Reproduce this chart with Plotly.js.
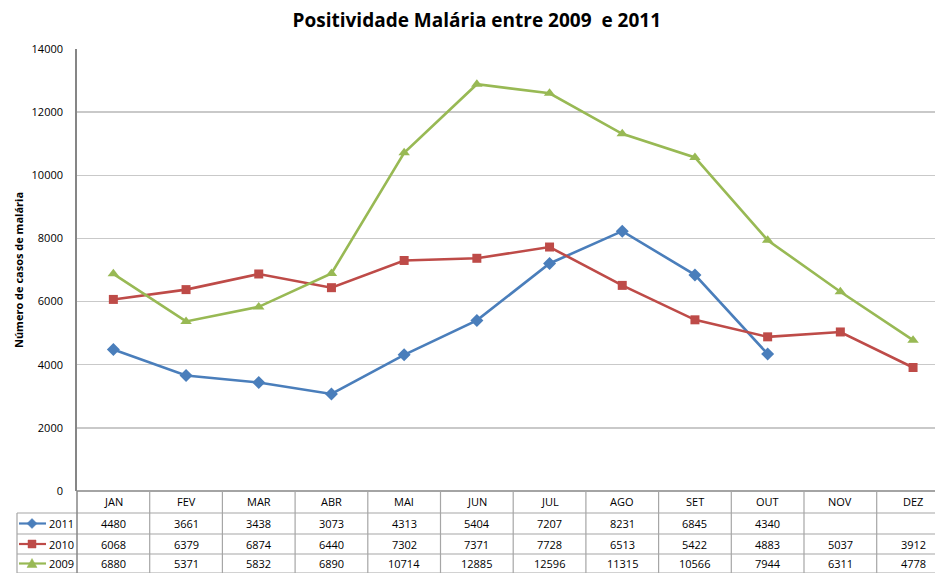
<!DOCTYPE html>
<html>
<head>
<meta charset="utf-8">
<script src="https://cdn.plot.ly/plotly-3.0.1.min.js"></script>
<style>html,body{margin:0;padding:0;background:#fff;}#chart{width:935px;height:573px;}</style>
</head>
<body>
<div id="chart"></div>
<script>
const months = ["JAN","FEV","MAR","ABR","MAI","JUN","JUL","AGO","SET","OUT","NOV","DEZ"];
const seriesNames = ["2011","2010","2009"];
const v2011 = [4480,3661,3438,3073,4313,5404,7207,8231,6845,4340,null,null];
const v2010 = [6068,6379,6874,6440,7302,7371,7728,6513,5422,4883,5037,3912];
const v2009 = [6880,5371,5832,6890,10714,12885,12596,11315,10566,7944,6311,4778];
const yTicks = [0,2000,4000,6000,8000,10000,12000,14000];

const colors = ["#4A7EBB","#BE4B48","#98B954"];
const symbols = ["diamond","square","triangle-up"];
const allValues = [v2011, v2010, v2009];

const W = 935, H = 573;
const L = 77, R = 0, T = 49, B = 82;
const plotW = W - L - R;
const plotH = H - T - B;
const colW = 72.7;
const xMax = -0.5 + plotW / colW;

const traces = allValues.map((vals, i) => ({
  x: months.map((m, k) => k),
  y: vals,
  type: "scatter",
  mode: "lines+markers",
  name: seriesNames[i],
  line: {color: colors[i], width: 2.6},
  marker: {color: colors[i], symbol: symbols[i], size: symbols[i]==="square" ? 9 : 10},
  connectgaps: false,
  hoverinfo: "x+y"
}));

// table geometry in pixels
const rowY = [491, 513, 534, 554, 573];
const legL = 17;
function px(x){ return (x - L) / plotW; }
function py(y){ return (H - B - y) / plotH; }
const gridCol = "#a6a6a6";
const shapes = [];
shapes.push({type:"line", xref:"paper", yref:"paper", x0:px(L), x1:px(W+20), y0:py(rowY[0]), y1:py(rowY[0]), line:{color:"#868686", width:1.5}});
for (let r = 1; r < rowY.length; r++) {
  shapes.push({type:"line", xref:"paper", yref:"paper", x0:px(legL), x1:px(W+20), y0:py(rowY[r]), y1:py(rowY[r]), line:{color:gridCol, width:1.2}});
}
for (let c = 0; c <= 12; c++) {
  const xp = L + c * colW;
  shapes.push({type:"line", xref:"paper", yref:"paper", x0:px(xp), x1:px(xp), y0:py(rowY[0]), y1:py(H+5), line:{color: c===0 ? "#868686" : gridCol, width: c===0 ? 1.5 : 1.2}});
}
shapes.push({type:"line", xref:"paper", yref:"paper", x0:px(legL), x1:px(legL), y0:py(rowY[1]), y1:py(H+5), line:{color:gridCol, width:1.2}});

const annotations = [];
const tfont = {family:"Open Sans, Liberation Sans, sans-serif", size:11, color:"#000"};
months.forEach((m, k) => {
  annotations.push({xref:"x", yref:"paper", x:k, y:py((rowY[0]+rowY[1])/2), text:m, showarrow:false, font:tfont, xanchor:"center", yanchor:"middle"});
});
function markerPath(sym, cx, cy, s){
  let pts;
  if (sym === "diamond") pts = [[cx, cy-s],[cx+s, cy],[cx, cy+s],[cx-s, cy]];
  else if (sym === "square") pts = [[cx-s, cy-s],[cx+s, cy-s],[cx+s, cy+s],[cx-s, cy+s]];
  else pts = [[cx, cy-s],[cx+s, cy+s*0.8],[cx-s, cy+s*0.8]];
  return "M" + pts.map(p => px(p[0]) + "," + py(p[1])).join("L") + "Z";
}
allValues.forEach((vals, i) => {
  const yc = (rowY[i+1] + rowY[i+2]) / 2;
  vals.forEach((v, k) => {
    if (v === null) return;
    annotations.push({xref:"x", yref:"paper", x:k, y:py(yc), text:String(v), showarrow:false, font:tfont, xanchor:"center", yanchor:"middle"});
  });
  annotations.push({xref:"paper", yref:"paper", x:px(L-2), y:py(yc), text:seriesNames[i], showarrow:false, font:{family:"Open Sans, Liberation Sans, sans-serif", size:11, color:"#000"}, xanchor:"right", yanchor:"middle", borderpad:0});
  shapes.push({type:"line", xref:"paper", yref:"paper", x0:px(19), x1:px(46), y0:py(yc), y1:py(yc), line:{color:colors[i], width:2.2}});
  shapes.push({type:"path", xref:"paper", yref:"paper", path: markerPath(symbols[i], 32, yc, symbols[i]==="square" ? 4 : 5), fillcolor: colors[i], line:{color: colors[i], width: 0.5}});
});

const layout = {
  width: W, height: H,
  margin: {l: L, r: R, t: T, b: B, pad: 0},
  paper_bgcolor: "#fff", plot_bgcolor: "#fff",
  showlegend: false,
  title: {text: "<b>Positividade Malária entre 2009  e 2011</b>", x: 0.466, xref:"paper", y: 0.965, yref:"container", xanchor:"center", yanchor:"middle", font:{family:"Open Sans, sans-serif", size:19, color:"#000"}},
  xaxis: {range:[-0.5, xMax], showticklabels:false, showgrid:false, zeroline:false, showline:false, ticks:"", fixedrange:true},
  yaxis: {range:[0,14000], tickvals: yTicks, ticktext: yTicks.map(String), showgrid:true, gridcolor:"#c9c9c9", gridwidth:1.4, zeroline:false, showline:true, linecolor:"#868686", linewidth:1.8, ticks:"", ticklen:0, tickfont:{family:"Open Sans, Liberation Sans, sans-serif", size:11, color:"#000"}, ticklabelstandoff: 10,
    title:{text:"<b>Número de casos de malária</b>", font:{family:"Open Sans, Liberation Sans, sans-serif", size:11, color:"#000"}, standoff: 6}},
  shapes: shapes,
  annotations: annotations
};

Plotly.newPlot("chart", traces, layout, {displayModeBar:false, staticPlot:true});
</script>
</body>
</html>
